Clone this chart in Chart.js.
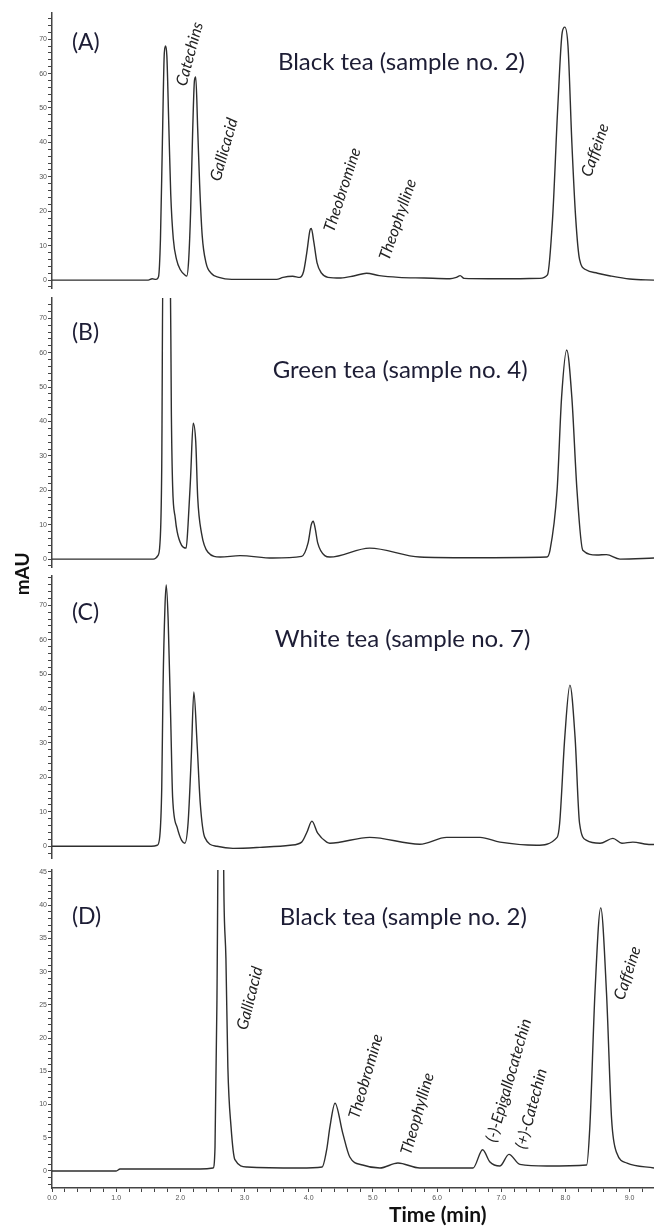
<!DOCTYPE html>
<html>
<head>
<meta charset="utf-8">
<script src="https://cdn.jsdelivr.net/npm/chart.js"></script>
<style>
  body { margin: 0; background: #fff; }
  #wrap { position: relative; width: 654px; height: 1228px; overflow: hidden; }
  #wrap canvas { position: absolute; left: 0; top: 0; }
</style>
</head>
<body>
<div id="wrap">
  <canvas id="chartA" width="654" height="1228"></canvas>
  <canvas id="chartB" width="654" height="1228"></canvas>
  <canvas id="chartC" width="654" height="1228"></canvas>
  <canvas id="chartD" width="654" height="1228"></canvas>
</div>
<script>
// retention time (min) and absorbance (mAU)
var timeA = [0,1.50,1.56,1.62,1.66,1.69,1.72,1.75,1.77,1.79,1.82,1.85,1.89,1.94,2.00,2.07,2.10,2.13,2.16,2.19,2.22,2.24,2.27,2.30,2.34,2.40,2.48,2.60,2.80,3.50,3.60,3.75,3.86,3.92,3.97,4.02,4.04,4.08,4.13,4.20,4.30,4.50,4.70,4.90,5.10,5.40,5.80,6.20,6.30,6.36,6.42,6.80,7.20,7.60,7.72,7.80,7.88,7.95,7.99,8.04,8.10,8.16,8.22,8.32,8.50,8.70,9.00,9.38];
var mauA  = [0,0,0.4,0.2,1,12,40,66,68,65,45,25,12,6,3,1.5,1.2,6,20,42,58,59,44,28,13,5,2,0.8,0.2,0.2,0.8,1.1,0.8,2.5,8,14.5,15,11,5,2,0.8,0.6,1.2,2,1.3,0.8,0.6,0.4,0.8,1.3,0.5,0.4,0.4,0.5,1.5,18,50,72,73.5,68,40,18,6,3,2,1.2,0.3,0];

var timeB = [0,1.58,1.65,1.68,1.71,1.73,1.84,1.86,1.88,1.92,1.95,2.02,2.09,2.12,2.16,2.20,2.24,2.27,2.33,2.43,2.62,2.93,3.44,3.89,3.99,4.04,4.07,4.10,4.14,4.25,4.33,4.95,5.73,6.50,7.71,7.76,7.87,7.94,8.02,8.10,8.18,8.27,8.49,8.64,8.85,9.38];
var mauB  = [0,0,1,4,27,90,90,42,21,12,8,4,3.2,10,24,39.5,34,18,7.5,2,0.6,1,0.3,0.8,4.7,10,11,9,4.7,1,0.6,3.2,0.6,0.4,0.6,2.6,20,47,60.8,47,20,2.6,1.2,1.3,0,0.3];

var timeC = [0,1.55,1.64,1.68,1.71,1.73,1.76,1.78,1.81,1.85,1.88,1.95,2.02,2.07,2.12,2.17,2.21,2.26,2.31,2.38,2.57,2.82,3.24,3.71,3.89,3.97,4.05,4.14,4.28,4.33,4.95,5.73,6.15,6.67,6.98,7.55,7.87,7.91,7.99,8.07,8.15,8.22,8.33,8.54,8.74,8.88,9.05,9.27,9.38];
var mauC  = [0,0,0.3,3,17,46,69.5,75.9,65.7,36.6,14,5.5,1.7,0.9,6.7,26,44.8,30,12.5,2.6,0,-0.6,-0.3,0.3,1.2,4,7.3,3.8,1.2,0.9,2.6,0.6,2.6,2.6,1.2,0.3,2.6,6.7,31.7,46.8,31.7,6.7,1.7,0.9,2.3,0.9,1.2,0.6,0.5];

var timeD = [0,1.00,1.06,2.31,2.51,2.54,2.57,2.60,2.66,2.68,2.71,2.74,2.79,2.85,3.04,3.86,4.21,4.28,4.33,4.41,4.53,4.64,4.84,5.11,5.39,5.73,6.56,6.71,6.82,6.98,7.12,7.29,7.71,8.33,8.38,8.46,8.55,8.64,8.72,8.80,8.96,9.38];
var mauD  = [0,0,0.3,0.3,0.45,3.6,25.7,60,60,40.8,32,15.7,6.6,1.7,0.6,0.45,0.6,3.2,6.6,10.2,5.7,2.1,0.9,0.45,1.2,0.45,0.45,3.2,1.4,0.75,2.5,1,0.75,0.9,6.6,26.8,39.6,26.8,7.7,2.7,1.2,0.45];

var panelTags   = ['(A)', '(B)', '(C)', '(D)'];
var panelTitles = ['Black tea (sample no. 2)', 'Green tea (sample no. 4)', 'White tea (sample no. 7)', 'Black tea (sample no. 2)'];
var peaksA = ['Catechins', 'Gallicacid', 'Theobromine', 'Theophylline', 'Caffeine'];
var peaksD = ['Gallicacid', 'Theobromine', 'Theophylline', '(-)-Epigallocatechin', '(+)-Catechin', 'Caffeine'];

var X_MAX = 9.38;
var TITLE_FONT = '24px Lato';
var TAG_FONT = '23px Lato';
var TITLE_COLOR = '#1d1d35';
var NOTE_FONT = 'italic 16px Lato';
var TICK_FONT = { family: 'Liberation Sans', size: 7 };

// draws panel letters, sample titles and the tilted peak names
var textPlugin = {
    id: 'panelText',
    afterDraw: function (chart, args, opts) {
        var ctx = chart.ctx;
        var xs = chart.scales.x, ys = chart.scales.y;
        (opts.items || []).forEach(function (it) {
            ctx.save();
            ctx.translate(xs.getPixelForValue(it.t), ys.getPixelForValue(it.v));
            ctx.rotate(-(it.rot || 0) * Math.PI / 180);
            ctx.font = it.font;
            ctx.fillStyle = it.color || '#222';
            ctx.textAlign = it.align || 'left';
            ctx.textBaseline = 'alphabetic';
            ctx.fillText(it.text, 0, 0);
            ctx.restore();
        });
    }
};

function makeChart(id, time, mau, p) {
    var pts = time.map(function (t, i) { return { x: t, y: mau[i] }; });
    var ctx = document.getElementById(id);
    return new Chart(ctx, {
        type: 'line',
        data: {
            datasets: [{
                data: pts,
                borderColor: '#2e2e2e',
                borderWidth: 1.4,
                pointRadius: 0,
                cubicInterpolationMode: 'monotone',
                fill: false
            }]
        },
        options: {
            responsive: false,
            animation: false,
            events: [],
            layout: { padding: { top: p.top, bottom: p.bottom, left: 0, right: 0 } },
            plugins: {
                legend: { display: false },
                tooltip: { enabled: false },
                panelText: { items: p.items }
            },
            scales: {
                x: {
                    type: 'linear',
                    min: 0,
                    max: X_MAX,
                    display: p.showX,
                    afterFit: function (s) { s.height = p.showX ? 40 : 0; },
                    border: { display: true, color: '#444', width: 1.5 },
                    grid: { drawOnChartArea: false, drawTicks: true, tickLength: 4, color: '#444' },
                    ticks: {
                        stepSize: 0.2,
                        includeBounds: false,
                        autoSkip: false,
                        maxRotation: 0,
                        padding: 2,
                        color: '#555',
                        font: TICK_FONT,
                        callback: function (v) {
                            var r = Math.round(v);
                            return Math.abs(v - r) < 1e-6 ? r.toFixed(1) : '';
                        }
                    }
                },
                y: {
                    type: 'linear',
                    min: p.yMin,
                    max: p.yMax,
                    afterFit: function (s) { s.width = 52; },
                    border: { display: true, color: '#444', width: 1.5 },
                    grid: { drawOnChartArea: false, drawTicks: true, tickLength: 4, color: '#444' },
                    ticks: {
                        stepSize: p.step,
                        includeBounds: false,
                        autoSkip: false,
                        padding: 1,
                        color: '#555',
                        font: TICK_FONT,
                        callback: function (v) {
                            return Math.abs(v % p.major) < 1e-6 ? String(Math.round(v)) : '';
                        }
                    }
                }
            }
        },
        plugins: [textPlugin]
    });
}

function heading(i, tagV, titleT, titleV) {
    return [
        { text: panelTags[i], t: 0.31, v: tagV, font: TAG_FONT, color: TITLE_COLOR },
        { text: panelTitles[i], t: titleT, v: titleV, font: TITLE_FONT, color: TITLE_COLOR }
    ];
}

var itemsA = heading(0, 66.9, 3.52, 61.0).concat([
    { text: peaksA[0], t: 2.09, v: 56.1, rot: 75, font: NOTE_FONT },
    { text: peaksA[1], t: 2.62, v: 28.5, rot: 74, font: NOTE_FONT },
    { text: peaksA[2], t: 4.39, v: 13.7, rot: 72, font: NOTE_FONT },
    { text: peaksA[3], t: 5.25, v: 5.5, rot: 71, font: NOTE_FONT },
    { text: peaksA[4], t: 8.40, v: 29.7, rot: 71, font: NOTE_FONT }
]);
var itemsB = heading(1, 63.7, 3.44, 52.6);
var itemsC = heading(2, 65.7, 3.47, 57.8).concat([
    { text: 'mAU', t: -0.36, v: 79.1, rot: 90, align: 'center', font: 'bold 19px Lato', color: '#111' }
]);
var itemsD = heading(3, 37.2, 3.55, 37.0).concat([
    { text: peaksD[0], t: 3.04, v: 21.1, rot: 76, font: NOTE_FONT },
    { text: peaksD[1], t: 4.78, v: 7.7, rot: 74, font: NOTE_FONT },
    { text: peaksD[2], t: 5.59, v: 2.3, rot: 74, font: NOTE_FONT },
    { text: peaksD[3], t: 6.92, v: 4.2, rot: 74, font: NOTE_FONT },
    { text: peaksD[4], t: 7.38, v: 3.2, rot: 75, font: NOTE_FONT },
    { text: peaksD[5], t: 8.91, v: 25.6, rot: 72, font: NOTE_FONT },
    { text: 'Time (min)', t: 6.01, v: -7.7, align: 'center', font: 'bold 21px Lato', color: '#111' }
]);

makeChart('chartA', timeA, mauA, { top: 13, bottom: 940, yMin: -2.3, yMax: 77.6, step: 2, major: 10, showX: false, items: itemsA });
makeChart('chartB', timeB, mauB, { top: 298, bottom: 661, yMin: -2.3, yMax: 75.9, step: 2, major: 10, showX: false, items: itemsB });
makeChart('chartC', timeC, mauC, { top: 576, bottom: 370, yMin: -3.4, yMax: 78.5, step: 2, major: 10, showX: false, items: itemsC });
makeChart('chartD', timeD, mauD, { top: 870, bottom: 0, yMin: -2.56, yMax: 45.3, step: 1, major: 5, showX: true, items: itemsD });
</script>
</body>
</html>
